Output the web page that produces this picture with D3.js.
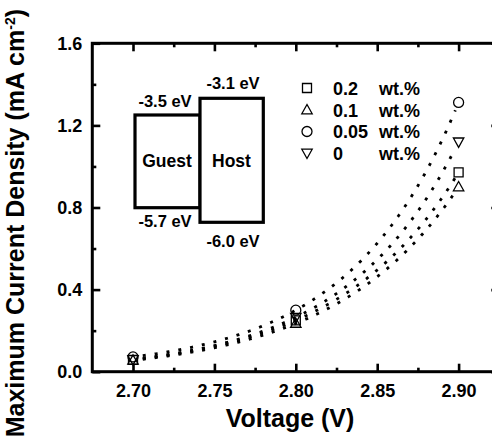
<!DOCTYPE html>
<html>
<head>
<meta charset="utf-8">
<script src="https://cdn.jsdelivr.net/npm/d3@7/dist/d3.min.js"></script>
<style>
  html, body { margin: 0; padding: 0; background: #fff; overflow: hidden; }
  svg { display: block; font-family: "Liberation Sans", Arial, Helvetica, sans-serif; font-weight: bold; }
</style>
</head>
<body>
<svg id="chart" width="492" height="437"></svg>
<script>
// ---- data ----
const voltages = [2.70, 2.80, 2.90];
const seriesNames = ["0.2", "0.1", "0.05", "0"];
const density_02 = [0.058, 0.250, 0.971];
const density_01 = [0.055, 0.235, 0.900];
const density_005 = [0.072, 0.300, 1.312];
const density_0 = [0.060, 0.265, 1.120];
const xTickValues = [2.70, 2.75, 2.80, 2.85, 2.90];
const xMinorTicks = [2.725, 2.775, 2.825, 2.875, 2.925];
const yTickValues = [0.0, 0.4, 0.8, 1.2, 1.6];
const yMinorTicks = [0.2, 0.6, 1.0, 1.4];
const energyLabels = ["-3.5 eV", "-5.7 eV", "-3.1 eV", "-6.0 eV"];

const seriesValues = [density_02, density_01, density_005, density_0];
const symbolTypes = ["square", "triangleUp", "circle", "triangleDown"];

const svg = d3.select("#chart");
const x = d3.scaleLinear().domain([2.675, 2.925]).range([92.3, 499.3]);
const y = d3.scaleLinear().domain([0, 1.6]).range([371.7, 43.3]);

function symbolPath(t) {
  switch (t) {
    case "square": return "M-4.5,-4.5H4.5V4.5H-4.5Z";
    case "triangleUp": return "M0,-5.5L5.2,3.8H-5.2Z";
    case "triangleDown": return "M0,5.5L5.2,-3.8H-5.2Z";
    case "circle": return "M5,0A5,5 0 1,1 -5,0A5,5 0 1,1 5,0Z";
  }
}

// ---- axes (ticks inward) ----
const tickStyle = g => {
  g.select(".domain").remove();
  g.selectAll(".tick line").attr("stroke", "#000").attr("stroke-width", 2.6);
  g.selectAll(".tick text").attr("fill", "#000").style("font-size", "18px").style("font-weight", "bold");
};
svg.append("g").attr("transform", `translate(0,${y(0)})`)
  .call(d3.axisBottom(x).tickValues(xTickValues).tickSizeInner(-8).tickSizeOuter(0).tickPadding(13).tickFormat(d3.format(".2f")))
  .call(tickStyle);
svg.append("g").attr("transform", `translate(0,${y(0)})`)
  .call(d3.axisBottom(x).tickValues(xMinorTicks).tickSizeInner(-4).tickSizeOuter(0).tickFormat(""))
  .call(tickStyle);
svg.append("g").attr("transform", `translate(0,${y(1.6)})`)
  .call(d3.axisTop(x).tickValues(xTickValues).tickSizeInner(-8).tickSizeOuter(0).tickFormat(""))
  .call(tickStyle);
svg.append("g").attr("transform", `translate(0,${y(1.6)})`)
  .call(d3.axisTop(x).tickValues(xMinorTicks).tickSizeInner(-4).tickSizeOuter(0).tickFormat(""))
  .call(tickStyle);
svg.append("g").attr("transform", `translate(${x(2.675)},0)`)
  .call(d3.axisLeft(y).tickValues(yTickValues).tickSizeInner(-8).tickSizeOuter(0).tickPadding(10).tickFormat(d3.format(".1f")))
  .call(tickStyle);
svg.append("g").attr("transform", `translate(${x(2.675)},0)`)
  .call(d3.axisLeft(y).tickValues(yMinorTicks).tickSizeInner(-4).tickSizeOuter(0).tickFormat(""))
  .call(tickStyle);
svg.append("g").attr("transform", `translate(${x(2.925)},0)`)
  .call(d3.axisRight(y).tickValues(yTickValues).tickSizeInner(-8).tickSizeOuter(0).tickFormat(""))
  .call(tickStyle);
svg.append("g").attr("transform", `translate(${x(2.925)},0)`)
  .call(d3.axisRight(y).tickValues(yMinorTicks).tickSizeInner(-4).tickSizeOuter(0).tickFormat(""))
  .call(tickStyle);

// frame
svg.append("rect")
  .attr("x", x(2.675)).attr("y", y(1.6))
  .attr("width", x(2.925) - x(2.675)).attr("height", y(0) - y(1.6))
  .attr("fill", "none").attr("stroke", "#000").attr("stroke-width", 3);

// ---- exponential fit lines: y = c + A*exp(b*x), solved from the three equally spaced points ----
function expFit(xs, ys) {
  const h = xs[1] - xs[0];
  const r = (ys[2] - ys[1]) / (ys[1] - ys[0]);
  const b = Math.log(r) / h;
  const A0 = (ys[1] - ys[0]) / (r - 1);   // A*exp(b*x0)
  const c = ys[0] - A0;
  return v => c + A0 * Math.exp(b * (v - xs[0]));
}
const line = d3.line().x(d => x(d[0])).y(d => y(d[1]));
seriesValues.forEach(vals => {
  const f = expFit(voltages, vals);
  const pts = d3.range(2.706, 2.8981, 0.001).map(v => [v, f(v)]);
  svg.append("path").attr("d", line(pts))
    .attr("fill", "none").attr("stroke", "#000").attr("stroke-width", 2.8)
    .attr("stroke-dasharray", "3,9");
});

// ---- markers ----
seriesValues.forEach((vals, si) => {
  svg.append("g").selectAll("path").data(vals).join("path")
    .attr("d", symbolPath(symbolTypes[si]))
    .attr("transform", (d, i) => `translate(${x(voltages[i])},${y(d)})`)
    .attr("fill", "none").attr("stroke", "#000").attr("stroke-width", 1.3);
});

// ---- legend ----
const legendRows = [88, 110, 131.5, 153];
seriesNames.forEach((name, i) => {
  svg.append("path").attr("d", symbolPath(symbolTypes[i]))
    .attr("transform", `translate(307,${legendRows[i]})`)
    .attr("fill", "none").attr("stroke", "#000").attr("stroke-width", 1.3);
  svg.append("text").attr("x", 333).attr("y", legendRows[i] + 6.5)
    .style("font-size", "18px").text(name);
  svg.append("text").attr("x", 379).attr("y", legendRows[i] + 6.5)
    .style("font-size", "18px").text("wt.%");
});

// ---- energy level diagram ----
svg.append("rect").attr("x", 135).attr("y", 115).attr("width", 65).attr("height", 92.7)
  .attr("fill", "none").attr("stroke", "#000").attr("stroke-width", 3.2);
svg.append("rect").attr("x", 200).attr("y", 98.3).attr("width", 63.3).attr("height", 124)
  .attr("fill", "#fff").attr("stroke", "#000").attr("stroke-width", 3.2);
const eLabel = (t, cx, by, fs) => svg.append("text").attr("x", cx).attr("y", by)
  .attr("text-anchor", "middle").style("font-size", fs + "px").text(t);
eLabel(energyLabels[0], 165, 106.5, 16.5);
eLabel(energyLabels[1], 165, 227, 16.5);
eLabel(energyLabels[2], 233, 89, 16.5);
eLabel(energyLabels[3], 233, 247, 16.5);
eLabel("Guest", 167, 167, 17.5);
eLabel("Host", 231.5, 167, 17.5);

// ---- axis titles ----
svg.append("text").attr("x", 290).attr("y", 427).attr("text-anchor", "middle")
  .style("font-size", "25px").text("Voltage (V)");
const yt = svg.append("text")
  .attr("transform", "translate(24,9) rotate(-90)")
  .attr("text-anchor", "end")
  .style("font-size", "25px");
yt.append("tspan").text("Maximum Current Density (mA cm");
yt.append("tspan").attr("dy", -9).style("font-size", "14px").text("-2");
yt.append("tspan").attr("dy", 9).text(")");
</script>
</body>
</html>
